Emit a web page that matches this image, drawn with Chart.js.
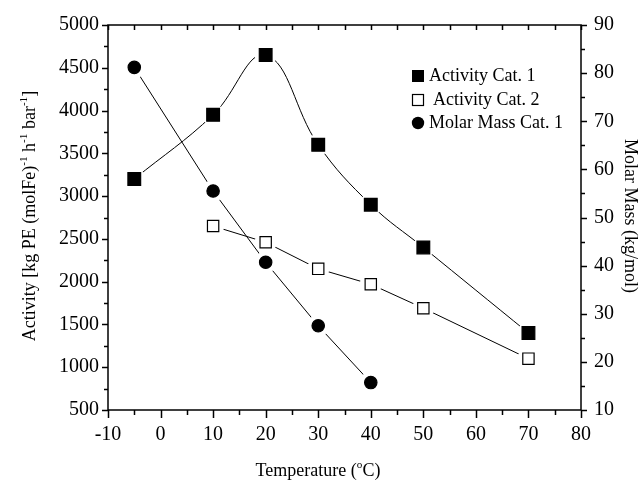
<!DOCTYPE html>
<html>
<head>
<meta charset="utf-8">
<script src="https://cdn.jsdelivr.net/npm/chart.js@4.4.1/dist/chart.umd.min.js"></script>
<style>
  html, body { margin: 0; padding: 0; background: #fff; }
  #wrap { width: 642px; height: 483px; }
</style>
</head>
<body>
<div id="wrap"><canvas id="chart" width="642" height="483"></canvas></div>
<script>
// --- data ---
const temps1 = [-5, 10, 20, 30, 40, 50, 70];
const activityCat1 = [3200, 3950, 4650, 3600, 2900, 2400, 1400];

const temps2 = [10, 20, 30, 40, 50, 70];
const activityCat2 = [2650, 2460, 2150, 1970, 1690, 1100];

const tempsM = [-5, 10, 20, 30, 40];
const molarMassCat1 = [81.2, 55.5, 40.7, 27.5, 15.7];

const legendLabels = ["Activity Cat. 1", "Activity Cat. 2", "Molar Mass Cat. 1"];

const FONT = "'Liberation Serif', 'Times New Roman', serif";

const pts = (xs, ys) => xs.map((x, i) => ({ x: x, y: ys[i] }));

// line only / white halo (gap round markers) / marker only
function lineSet(data, axis, tension) {
  return { data, yAxisID: axis, showLine: true, borderColor: "#000", borderWidth: 1,
           tension: tension, pointRadius: 0, fill: false, order: 3 };
}
function haloSet(data, axis) {
  return { data, yAxisID: axis, showLine: false, pointStyle: "circle", pointRadius: 11,
           pointBackgroundColor: "#fff", pointBorderWidth: 0, order: 2 };
}
function markerSet(data, axis, style, radius, fillColor) {
  return { data, yAxisID: axis, showLine: false, pointStyle: style, pointRadius: radius,
           pointBackgroundColor: fillColor, pointBorderColor: "#000", pointBorderWidth: 1.2,
           order: 1 };
}

const d1 = pts(temps1, activityCat1);
const d2 = pts(temps2, activityCat2);
const dm = pts(tempsM, molarMassCat1);

// frame, ticks, axis titles and legend
const framePlugin = {
  id: "frame",
  afterDraw(chart) {
    const ctx = chart.ctx;
    const a = chart.chartArea;
    const sx = chart.scales.x, sy = chart.scales.y, sy2 = chart.scales.y2;
    ctx.save();
    ctx.strokeStyle = "#000";
    ctx.lineWidth = 1.5;
    ctx.strokeRect(a.left, a.top, a.right - a.left, a.bottom - a.top);

    ctx.beginPath();
    for (let v = -10; v <= 80; v += 5) {
      const px = Math.round(sx.getPixelForValue(v)) + 0.5;
      const major = v % 10 === 0;
      ctx.moveTo(px, a.bottom); ctx.lineTo(px, a.bottom + (major ? 8 : 5));
      ctx.moveTo(px, a.top); ctx.lineTo(px, a.top + 5);
    }
    for (let v = 500; v <= 5000; v += 250) {
      const py = Math.round(sy.getPixelForValue(v)) + 0.5;
      ctx.moveTo(a.left, py); ctx.lineTo(a.left - (v % 500 === 0 ? 6 : 4), py);
    }
    for (let v = 10; v <= 90; v += 5) {
      const py = Math.round(sy2.getPixelForValue(v)) + 0.5;
      ctx.moveTo(a.right, py); ctx.lineTo(a.right + (v % 10 === 0 ? 6 : 4), py);
    }
    ctx.stroke();

    ctx.fillStyle = "#000";
    // x title
    drawRich(ctx, [["Temperature (", 0], ["o", 1], ["C)", 0]], 318, 471, 18);
    // left title
    ctx.save();
    ctx.translate(30, 216);
    ctx.rotate(-Math.PI / 2);
    drawRich(ctx, [["Activity [kg PE (molFe)", 0], ["-1", 1], [" h", 0], ["-1", 1],
                   [" bar", 0], ["-1", 1], ["]", 0]], 0, 0, 18);
    ctx.restore();
    // right title
    ctx.save();
    ctx.translate(630, 216);
    ctx.rotate(Math.PI / 2);
    drawRich(ctx, [["Molar Mass (kg/mol)", 0]], 0, 0, 18);
    ctx.restore();

    // legend
    const lx = 418;
    const rows = [76, 100, 123];
    ctx.lineWidth = 1.2;
    ctx.fillRect(lx - 6, rows[0] - 6, 12, 12);
    ctx.fillStyle = "#fff";
    ctx.fillRect(lx - 5.5, rows[1] - 5.5, 11, 11);
    ctx.strokeRect(lx - 5.5, rows[1] - 5.5, 11, 11);
    ctx.fillStyle = "#000";
    ctx.beginPath();
    ctx.arc(lx, rows[2], 6.2, 0, Math.PI * 2);
    ctx.fill();
    ctx.font = "18px " + FONT;
    ctx.textAlign = "left";
    ctx.textBaseline = "middle";
    ctx.fillText(legendLabels[0], 429, rows[0]);
    ctx.fillText(legendLabels[1], 433, rows[1]);
    ctx.fillText(legendLabels[2], 429, rows[2]);
    ctx.restore();
  }
};

// text with superscripts, centred on (cx, cy)
function drawRich(ctx, parts, cx, cy, size) {
  const supSize = size * 0.62;
  let w = 0;
  parts.forEach(p => {
    ctx.font = (p[1] ? supSize : size) + "px " + FONT;
    w += ctx.measureText(p[0]).width;
  });
  let x = cx - w / 2;
  ctx.textAlign = "left";
  ctx.textBaseline = "middle";
  parts.forEach(p => {
    ctx.font = (p[1] ? supSize : size) + "px " + FONT;
    ctx.fillText(p[0], x, p[1] ? cy - size * 0.32 : cy);
    x += ctx.measureText(p[0]).width;
  });
}

const tickFont = { family: FONT, size: 20 };
const plain = v => String(v);

new Chart(document.getElementById("chart"), {
  type: "scatter",
  data: {
    datasets: [
      lineSet(d1, "y", 0.4), lineSet(d2, "y", 0), lineSet(dm, "y2", 0),
      haloSet(d1, "y"), haloSet(d2, "y"), haloSet(dm, "y2"),
      markerSet(d1, "y", "rect", 9, "#000"),
      markerSet(d2, "y", "rect", 8, "#fff"),
      markerSet(dm, "y2", "circle", 6.2, "#000")
    ]
  },
  options: {
    responsive: false,
    animation: false,
    layout: { padding: { top: 21, left: 0, right: 0, bottom: 0 } },
    plugins: { legend: { display: false }, tooltip: { enabled: false } },
    scales: {
      x: {
        type: "linear", min: -10, max: 80,
        ticks: { stepSize: 10, color: "#000", font: tickFont, padding: 13, maxRotation: 0, callback: plain },
        grid: { display: false, drawTicks: false },
        border: { display: false },
        afterFit: s => { s.height = 73; }
      },
      y: {
        type: "linear", position: "left", min: 500, max: 5000,
        ticks: { stepSize: 500, color: "#000", font: tickFont, padding: 9, callback: plain },
        grid: { display: false, drawTicks: false },
        border: { display: false },
        afterFit: s => { s.width = 108; }
      },
      y2: {
        type: "linear", position: "right", min: 10, max: 90,
        ticks: { stepSize: 10, color: "#000", font: tickFont, padding: 13, callback: plain },
        grid: { display: false, drawTicks: false },
        border: { display: false },
        afterFit: s => { s.width = 61; }
      }
    }
  },
  plugins: [framePlugin]
});
</script>
</body>
</html>
